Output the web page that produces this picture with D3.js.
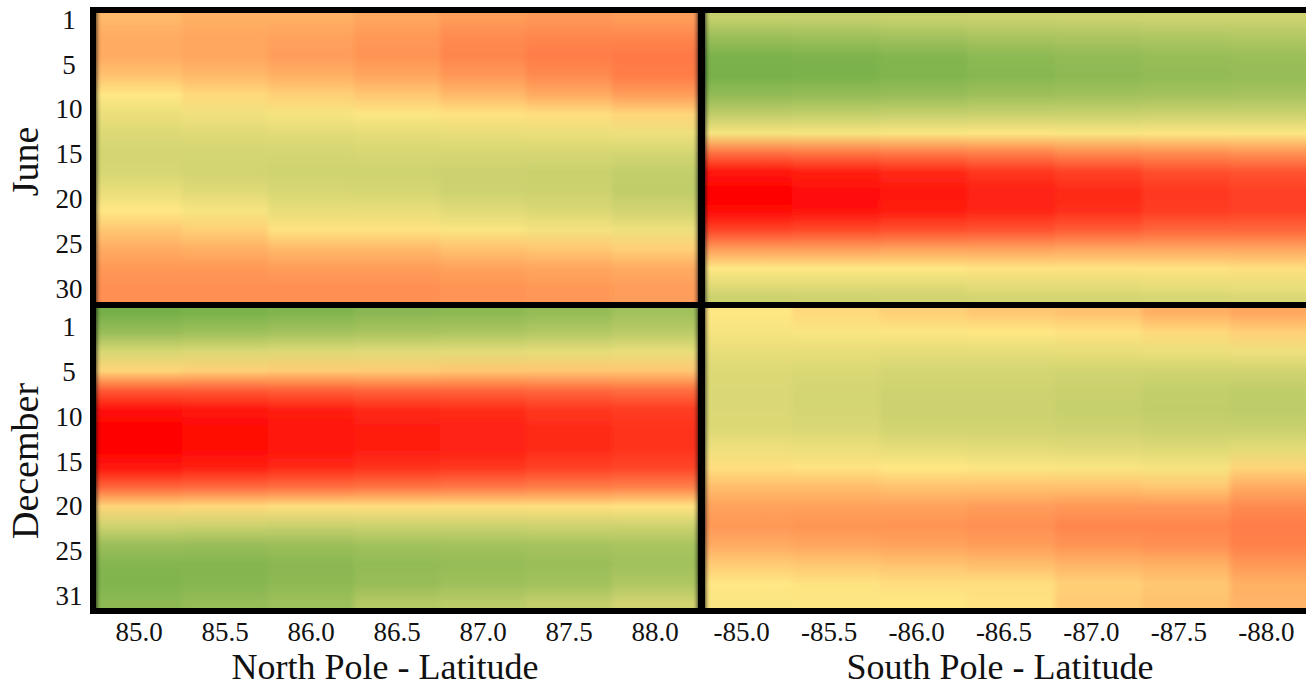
<!DOCTYPE html>
<html>
<head>
<meta charset="utf-8">
<script src="https://cdn.jsdelivr.net/npm/d3@7"></script>
<style>
  body { margin: 0; background: #fff; overflow: hidden; }
  text { font-family: "Liberation Serif", "Times New Roman", serif; }
</style>
</head>
<body>
<div id="chart"></div>
<script>
// latitude columns
const northLat = ["85.0", "85.5", "86.0", "86.5", "87.0", "87.5", "88.0"];
const southLat = ["-85.0", "-85.5", "-86.0", "-86.5", "-87.0", "-87.5", "-88.0"];

// day-of-month tick labels
const juneTicks = ["1", "5", "10", "15", "20", "25", "30"];
const decTicks = ["1", "5", "10", "15", "20", "25", "31"];

const juneDays = [1, 3, 5, 7, 9, 11, 13, 15, 17, 19, 21, 23, 25, 27, 29, 30];
const decDays = [1, 3, 5, 7, 9, 11, 13, 15, 17, 19, 21, 23, 25, 27, 29, 31];

// values 0 (green) .. 50 (yellow) .. 100 (red), one row per latitude
const juneNorth = [
  [60, 63, 63, 58, 50, 43, 38, 35, 36, 42, 50, 57, 63, 67, 69, 69],
  [62, 64, 64, 60, 53, 45, 39, 35, 34, 39, 47, 55, 62, 67, 69, 69],
  [62, 65, 66, 62, 55, 47, 40, 35, 33, 36, 42, 51, 60, 66, 69, 69],
  [64, 67, 68, 64, 57, 49, 41, 36, 33, 35, 42, 51, 60, 66, 69, 69],
  [66, 70, 71, 67, 60, 51, 42, 36, 32, 33, 39, 48, 58, 65, 68, 68],
  [67, 71, 73, 70, 63, 52, 43, 36, 31, 32, 37, 46, 57, 64, 67, 67],
  [66, 71, 74, 73, 66, 54, 44, 35, 29, 28, 34, 44, 55, 63, 66, 66]
];
const juneSouth = [
  [30, 15, 4, 3, 12, 28, 47, 75, 95, 100, 98, 85, 66, 50, 38, 32],
  [30, 16, 5, 4, 13, 29, 47, 74, 93, 97, 96, 84, 66, 50, 38, 33],
  [31, 18, 7, 6, 14, 30, 48, 73, 91, 95, 94, 83, 65, 50, 38, 34],
  [32, 20, 10, 8, 16, 31, 49, 72, 88, 93, 92, 82, 65, 51, 40, 35],
  [32, 21, 12, 10, 17, 31, 48, 70, 86, 91, 90, 80, 64, 51, 40, 35],
  [33, 22, 14, 12, 18, 32, 49, 69, 83, 88, 87, 78, 64, 51, 41, 36],
  [33, 23, 15, 13, 19, 32, 49, 68, 82, 86, 86, 78, 64, 52, 42, 37]
];
const decNorth = [
  [2, 14, 36, 54, 80, 96, 100, 100, 95, 78, 54, 33, 15, 7, 6, 10],
  [4, 16, 37, 55, 80, 95, 98, 98, 93, 77, 53, 32, 14, 7, 8, 13],
  [6, 18, 38, 56, 79, 93, 96, 96, 91, 76, 52, 31, 15, 9, 10, 16],
  [9, 20, 39, 56, 78, 91, 94, 94, 89, 75, 52, 32, 17, 12, 14, 24],
  [10, 21, 40, 57, 78, 90, 93, 93, 88, 74, 52, 32, 18, 13, 16, 26],
  [13, 23, 41, 57, 77, 88, 91, 91, 86, 73, 52, 33, 19, 15, 18, 29],
  [17, 26, 42, 57, 76, 87, 89, 89, 85, 72, 51, 33, 20, 17, 22, 34]
];
const decSouth = [
  [50, 47, 42, 38, 37, 37, 38, 44, 52, 59, 65, 67, 63, 56, 50, 48],
  [53, 48, 42, 37, 35, 35, 37, 43, 51, 59, 65, 68, 64, 57, 51, 49],
  [55, 49, 41, 35, 33, 32, 34, 41, 50, 58, 65, 68, 65, 58, 52, 50],
  [57, 50, 41, 35, 33, 32, 34, 40, 49, 58, 66, 69, 66, 59, 52, 51],
  [58, 51, 42, 34, 31, 30, 33, 39, 48, 58, 67, 71, 68, 61, 55, 56],
  [62, 53, 43, 34, 29, 28, 31, 38, 47, 57, 67, 71, 69, 62, 57, 58],
  [64, 55, 44, 34, 28, 27, 31, 40, 54, 63, 70, 73, 72, 67, 62, 61]
];

const svg = d3.select("#chart").append("svg")
  .attr("width", 1330)
  .attr("height", 687);
const defs = svg.append("defs");

const xNorth = d3.scaleBand().domain(northLat).range([96, 698]);
const xSouth = d3.scaleBand().domain(southLat).range([705, 1317]);
const yJune = d3.scaleLinear().domain([0.5, 30.5]).range([13, 302]);
const yDec = d3.scaleLinear().domain([0.5, 31.5]).range([308, 608]);
const color = d3.scaleLinear()
  .domain([0, 50, 100])
  .range(["#70ad47", "#ffe784", "#ff0000"]);

// soften the seams between latitude columns a little
const soft = defs.append("filter")
  .attr("id", "soft")
  .attr("x", 0).attr("y", 0).attr("width", 1).attr("height", 1);
soft.append("feGaussianBlur")
  .attr("stdDeviation", "2.5 0")
  .attr("edgeMode", "duplicate");

// black frame sits behind the cells, the gaps between panels show it
const border = 6;
svg.append("rect")
  .attr("x", xNorth.range()[0] - border)
  .attr("y", yJune.range()[0] - border)
  .attr("width", xSouth.range()[1] + border - (xNorth.range()[0] - border))
  .attr("height", yDec.range()[1] + border - (yJune.range()[0] - border))
  .attr("fill", "#000");

function drawPanel(id, x, y, days, rows) {
  const [y0, y1] = y.range();
  rows.forEach((vals, i) => {
    const grad = defs.append("linearGradient")
      .attr("id", `${id}-${i}`)
      .attr("x1", 0).attr("y1", 0).attr("x2", 0).attr("y2", 1);
    grad.selectAll("stop")
      .data(days)
      .enter()
      .append("stop")
      .attr("offset", d => (y(d) - y0) / (y1 - y0))
      .attr("stop-color", (d, j) => color(vals[j]));
  });
  svg.append("g")
    .attr("filter", "url(#soft)")
    .selectAll("rect")
    .data(x.domain())
    .enter()
    .append("rect")
    .attr("x", d => x(d))
    .attr("y", y0)
    .attr("width", x.bandwidth())
    .attr("height", y1 - y0)
    .attr("shape-rendering", "crispEdges")
    .attr("fill", (d, i) => `url(#${id}-${i})`);
}

drawPanel("jn", xNorth, yJune, juneDays, juneNorth);
drawPanel("js", xSouth, yJune, juneDays, juneSouth);
drawPanel("dn", xNorth, yDec, decDays, decNorth);
drawPanel("ds", xSouth, yDec, decDays, decSouth);

// day labels, evenly spaced down each panel
const yTickJune = d3.scalePoint().domain(juneTicks).range([19.5, 289]);
const yTickDec = d3.scalePoint().domain(decTicks).range([327, 596]);

function dayAxis(scale) {
  const g = svg.append("g")
    .attr("transform", "translate(69,0)")
    .call(d3.axisLeft(scale).tickSize(0).tickPadding(0));
  g.select(".domain").remove();
  g.attr("font-size", 27).attr("font-family", null);
  g.selectAll("text").attr("x", 0).attr("text-anchor", "middle").attr("fill", "#111");
}
dayAxis(yTickJune);
dayAxis(yTickDec);

function latAxis(scale, shift) {
  const g = svg.append("g")
    .attr("transform", "translate(0,614)")
    .call(d3.axisBottom(scale).tickSize(0).tickPadding(8));
  g.select(".domain").remove();
  g.attr("font-size", 27).attr("font-family", null);
  g.selectAll("text").attr("dx", shift).attr("fill", "#111");
}
latAxis(xNorth, 0);
latAxis(xSouth, -7);

// axis titles
svg.append("text")
  .attr("x", 385).attr("y", 679)
  .attr("text-anchor", "middle")
  .attr("font-size", 36)
  .attr("fill", "#111")
  .text("North Pole - Latitude");
svg.append("text")
  .attr("x", 1000).attr("y", 679)
  .attr("text-anchor", "middle")
  .attr("font-size", 36)
  .attr("fill", "#111")
  .text("South Pole - Latitude");

svg.append("text")
  .attr("transform", `translate(38,${(yJune.range()[0] + yJune.range()[1]) / 2 + 4}) rotate(-90)`)
  .attr("text-anchor", "middle")
  .attr("font-size", 38)
  .attr("fill", "#111")
  .text("June");
svg.append("text")
  .attr("transform", `translate(38,${(yDec.range()[0] + yDec.range()[1]) / 2 + 3}) rotate(-90)`)
  .attr("text-anchor", "middle")
  .attr("font-size", 38)
  .attr("fill", "#111")
  .text("December");
</script>
</body>
</html>
